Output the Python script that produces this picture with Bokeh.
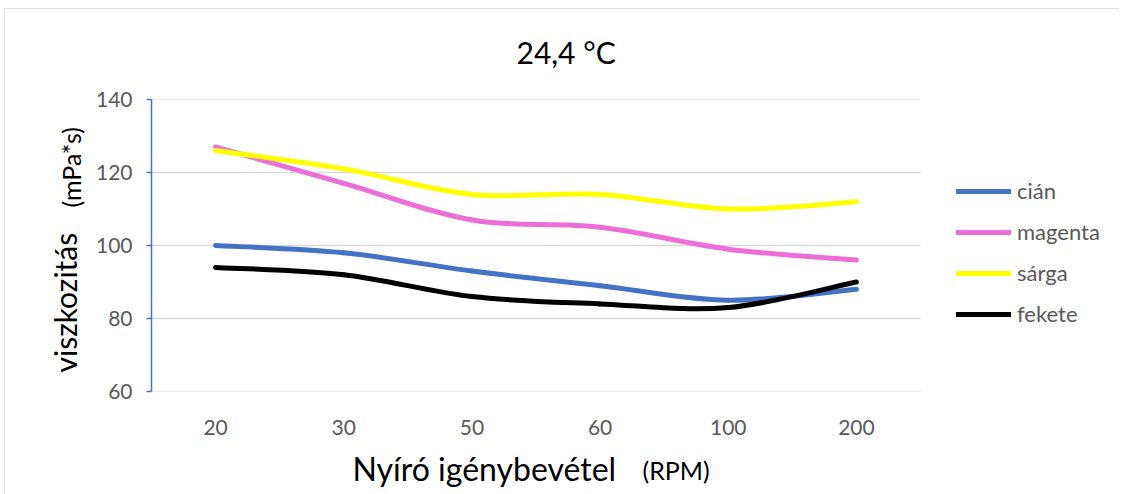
import math
from bokeh.plotting import figure
from bokeh.models import Range1d, Legend, LegendItem, Label, FixedTicker
from bokeh.embed import file_html
from bokeh.resources import INLINE

categories = ["20", "30", "50", "60", "100", "200"]
cian = [100, 98, 93, 89, 85, 88]
magenta = [127, 117, 107, 105, 99, 96]
sarga = [126, 121, 114, 114, 110, 112]
fekete = [94, 92, 86, 84, 83, 90]
y_ticks = [60, 80, 100, 120, 140]

series_names = ["cián", "magenta", "sárga", "fekete"]
series_values = [cian, magenta, sarga, fekete]
series_colors = ["#4472C4", "#EC6FD8", "#FFFF00", "#000000"]

FONT = "Lato"
GRAY = "#595959"

# frame: plotting area of the categories (769px) plus room on the right for the legend
FIG_W, FIG_H = 1115, 486
BORDER_L, BORDER_R = 147, 5
FRAME_W = FIG_W - BORDER_L - BORDER_R
CAT_W = 769
n = len(categories)

p = figure(width=FIG_W, height=FIG_H, output_backend="svg", toolbar_location=None,
           x_range=Range1d(0, n * FRAME_W / CAT_W),
           y_range=Range1d(min(y_ticks), max(y_ticks)),
           min_border_left=BORDER_L, min_border_right=BORDER_R, min_border_top=91,
           min_border_bottom=103)
p.outline_line_color = None
p.background_fill_color = "white"
p.border_fill_color = "white"
p.styles = {"margin-left": "4px", "margin-top": "8px",
            "outline": "1px solid #d9d9d9", "outline-offset": "-1px"}

# y axis
p.yaxis.ticker = FixedTicker(ticks=y_ticks)
p.yaxis.axis_line_color = "#4472C4"
p.yaxis.axis_line_width = 1.5
p.yaxis.major_tick_line_color = "#4472C4"
p.yaxis.major_tick_line_width = 1.5
p.yaxis.major_tick_out = 5
p.yaxis.major_tick_in = 0
p.yaxis.minor_tick_line_color = None
p.yaxis.major_label_text_font = FONT
p.yaxis.major_label_text_font_size = "21px"
p.yaxis.major_label_text_color = GRAY
p.yaxis.major_label_standoff = 14

# x axis: one slot per category
cat_pos = [i + 0.5 for i in range(n)]
p.xaxis.ticker = FixedTicker(ticks=cat_pos)
p.xaxis.major_label_overrides = {pos: c for pos, c in zip(cat_pos, categories)}
p.xaxis.axis_line_color = None
p.xaxis.major_tick_line_color = None
p.xaxis.minor_tick_line_color = None
p.xaxis.major_label_text_font = FONT
p.xaxis.major_label_text_font_size = "21px"
p.xaxis.major_label_text_color = GRAY
p.xaxis.major_label_standoff = 22

p.xgrid.grid_line_color = None
p.ygrid.grid_line_color = None

# horizontal gridlines spanning only the category area
p.segment(x0=[0] * len(y_ticks), x1=[n] * len(y_ticks), y0=y_ticks, y1=y_ticks,
          line_color="#D9D9D9", line_width=1.5, level="underlay")


def smooth_segments(vals):
    xs = cat_pos
    m = len(vals)
    d = dict(x0=[], y0=[], x1=[], y1=[], cx0=[], cy0=[], cx1=[], cy1=[])
    for i in range(m - 1):
        i0 = max(i - 1, 0)
        i3 = min(i + 2, m - 1)
        x0, y0 = xs[i0], vals[i0]
        x1, y1 = xs[i], vals[i]
        x2, y2 = xs[i + 1], vals[i + 1]
        x3, y3 = xs[i3], vals[i3]
        d["x0"].append(x1); d["y0"].append(y1)
        d["x1"].append(x2); d["y1"].append(y2)
        d["cx0"].append(x1 + (x2 - x0) / 6); d["cy0"].append(y1 + (y2 - y0) / 6)
        d["cx1"].append(x2 - (x3 - x1) / 6); d["cy1"].append(y2 - (y3 - y1) / 6)
    return d


items = []
for name, vals, col in zip(series_names, series_values, series_colors):
    p.bezier(source=smooth_segments(vals), x0="x0", y0="y0", x1="x1", y1="y1",
             cx0="cx0", cy0="cy0", cx1="cx1", cy1="cy1",
             line_color=col, line_width=5, line_cap="round")
    # single-point line: draws nothing, used only as the legend swatch
    lr = p.line(x=[cat_pos[0]], y=[vals[0]], line_color=col, line_width=5,
                line_cap="round")
    items.append(LegendItem(label=name, renderers=[lr]))

legend = Legend(items=items, location=(805, 64), padding=0, margin=0,
                border_line_color=None, background_fill_alpha=0,
                label_text_font=FONT, label_text_font_size="22px",
                label_text_color=GRAY, glyph_width=55, glyph_height=20,
                label_height=22, spacing=14, label_standoff=6)
p.add_layout(legend, "center")


def txt(text, x, y, size, angle=0.0):
    return Label(x=x, y=y, x_units="screen", y_units="screen", text=text,
                 text_align="left", text_baseline="alphabetic", angle=angle,
                 text_font=FONT, text_font_size=size, text_color="black")


# title and axis titles (side panels, so they are not clipped to the frame)
p.add_layout(txt("(RPM)", 491, -370, "25px"), "above")
p.add_layout(txt("24,4 °C", 365, 18, "30px"), "above")
p.add_layout(txt("viszkozitás", 8, 19, "30px", math.pi / 2), "left")
p.add_layout(txt("(mPa*s)", 44, 184, "25px", math.pi / 2), "left")
p.add_layout(txt("Nyíró igénybevétel", 201, 8, "32px"), "below")

open("out.html", "w").write(file_html(p, INLINE))
